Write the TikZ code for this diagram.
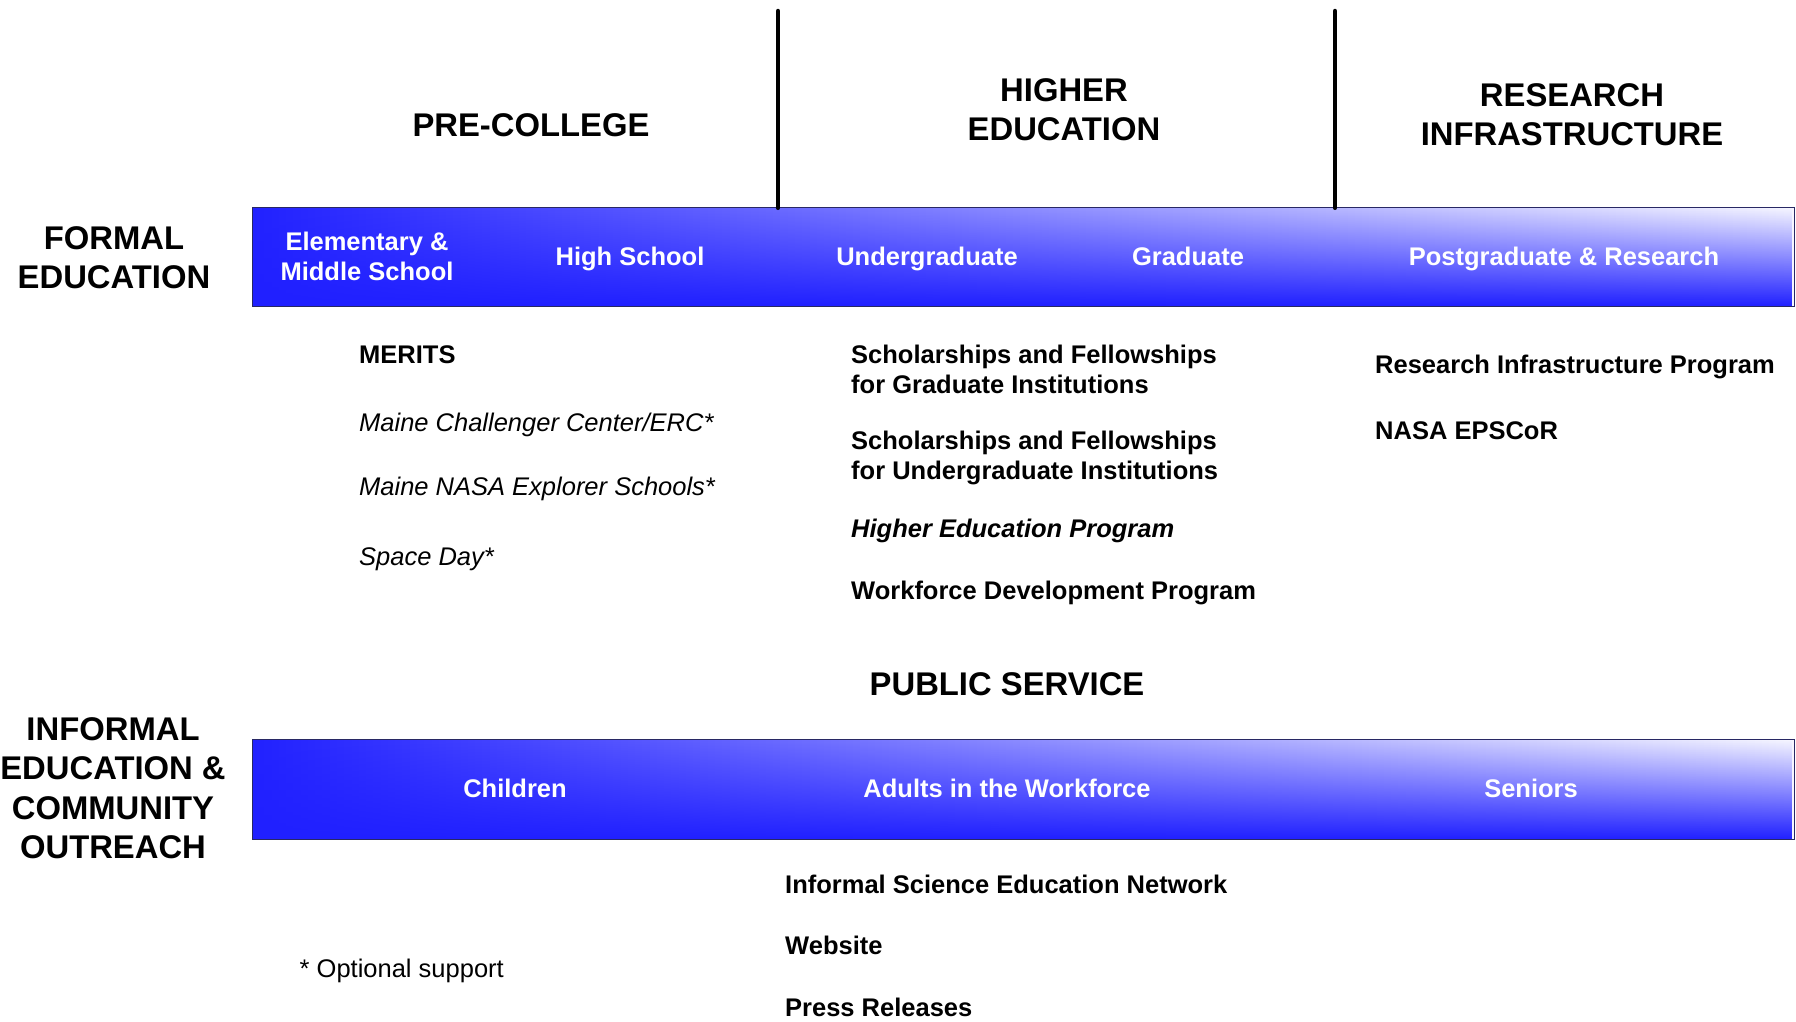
\documentclass[tikz,border=0pt]{standalone}
\usepackage{fontspec}
\setmainfont{Liberation Sans}
\usetikzlibrary{fadings}
\definecolor{barL}{RGB}{34,34,255}
\definecolor{barM}{RGB}{112,112,255}
\definecolor{barR}{RGB}{246,246,255}
\definecolor{barB}{RGB}{32,32,255}
\definecolor{barEdge}{RGB}{40,40,100}
\tikzfading[name=barfade, top color=transparent!100, middle color=transparent!80, bottom color=transparent!0]
\begin{document}
\begin{tikzpicture}[x=1pt,y=-1pt,
  hd/.style={font=\fontsize{32.8}{39}\selectfont\bfseries, inner sep=0pt, align=center},
  barlbl/.style={font=\fontsize{25.5}{30}\selectfont\bfseries, text=white, inner sep=0pt, align=center},
  itembf/.style={font=\fontsize{25.5}{30}\selectfont\bfseries, inner sep=0pt, align=left},
  itemit/.style={font=\fontsize{25.5}{30}\selectfont\itshape, inner sep=0pt, anchor=base west},
  bar/.style={left color=barL, middle color=barM, right color=barR, minimum width=1541pt, minimum height=98pt, inner sep=0pt},
  divider/.style={line width=4.5pt, line cap=round},
  baredge/.style={draw=barEdge, line width=1.3pt}]
\useasboundingbox (0,0) rectangle (1796,1021);

% bars
\node[bar] (fbar) at (1023.5,257) {};
\fill[barB, path fading=barfade] (fbar.south west) rectangle (fbar.north east);
\draw[baredge] (fbar.south west) rectangle (fbar.north east);
\node[bar, minimum height=99pt] (ibar) at (1023.5,789.5) {};
\fill[barB, path fading=barfade] (ibar.south west) rectangle (ibar.north east);
\draw[baredge] (ibar.south west) rectangle (ibar.north east);

% dividers
\coordinate (d1) at (778,11);
\coordinate (d2) at (1335,11);
\draw[divider] (d1) -- (d1 |- fbar.north);
\draw[divider] (d2) -- (d2 |- fbar.north);

% headings
\node[hd, anchor=north] (formal) at (114,226) {FORMAL\\EDUCATION};
\node[hd, anchor=north, font=\fontsize{32.8}{39.5}\selectfont\bfseries] (informal) at (113,717) {INFORMAL\\EDUCATION \&\\COMMUNITY\\OUTREACH};
\node[hd, anchor=base] (precollege) at (531,136) {PRE-COLLEGE};
\node[hd, anchor=north] (higher) at (1064,78.5) {HIGHER\\EDUCATION};
\node[hd, anchor=north] (research) at (1572,83) {RESEARCH\\INFRASTRUCTURE};
\node[hd, anchor=base] (public) at (1007,695) {PUBLIC SERVICE};

% formal bar labels
\node[barlbl, anchor=north] (elem) at (367,231.5) {Elementary \&\\Middle School};
\node[barlbl, anchor=base] (high) at (630,265) {High School};
\node[barlbl, anchor=base] (under) at (927,265) {Undergraduate};
\node[barlbl, anchor=base] (grad) at (1188,265) {Graduate};
\node[barlbl, anchor=base] (post) at (1564,265) {Postgraduate \& Research};

% informal bar labels
\node[barlbl, anchor=base] (child) at (515,797) {Children};
\node[barlbl, anchor=base] (adults) at (1007,797) {Adults in the Workforce};
\node[barlbl, anchor=base] (seniors) at (1531,797) {Seniors};

% pre-college items
\node[itembf, anchor=base west] (merits) at (359,363) {MERITS};
\node[itemit] (mcc) at (359,431) {Maine Challenger Center/ERC*};
\node[itemit] (mnes) at (359,495) {Maine NASA Explorer Schools*};
\node[itemit] (space) at (359,565) {Space Day*};

% higher education items
\node[itembf, anchor=north west] (sfg) at (851,344.5) {Scholarships and Fellowships\\for Graduate Institutions};
\node[itembf, anchor=north west] (sfu) at (851,430.5) {Scholarships and Fellowships\\for Undergraduate Institutions};
\node[itembf, anchor=base west, font=\fontsize{25.5}{30}\selectfont\bfseries\itshape] (hep) at (851,537) {Higher Education Program};
\node[itembf, anchor=base west] (wdp) at (851,599) {Workforce Development Program};

% research items
\node[itembf, anchor=base west] (rip) at (1375,373) {Research Infrastructure Program};
\node[itembf, anchor=base west] (epscor) at (1375,439) {NASA EPSCoR};

% informal items
\node[itembf, anchor=base west] (isen) at (785,893.5) {Informal Science Education Network};
\node[itembf, anchor=base west] (web) at (785,954.5) {Website};
\node[itembf, anchor=base west] (press) at (785,1016.5) {Press Releases};

% footnote
\node[inner sep=0pt, anchor=base west, font=\fontsize{25.5}{30}\selectfont] (opt) at (299.5,977) {* Optional support};
\end{tikzpicture}
\end{document}
